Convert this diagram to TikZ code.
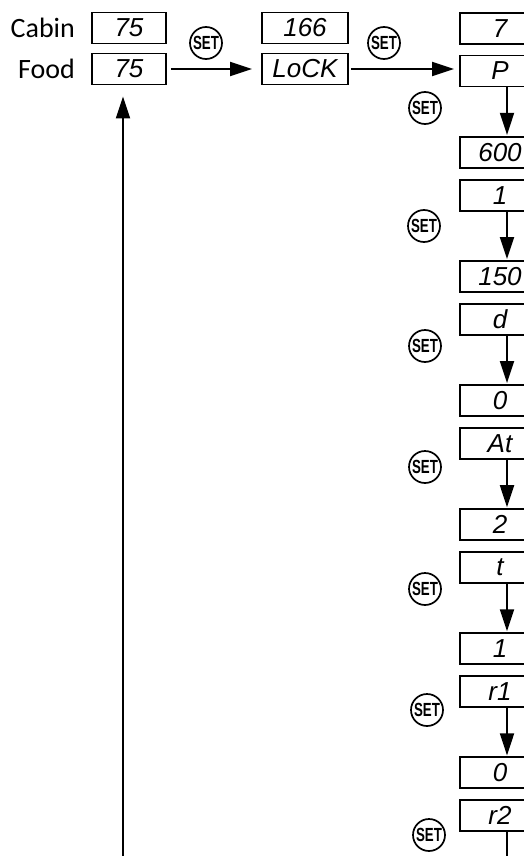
\documentclass[tikz,border=0pt]{standalone}
\usepackage{fontspec}
\setmainfont{Carlito}
\newfontfamily\segfont{Liberation Sans}
\newfontfamily\keyfont{Liberation Sans}[FakeStretch=0.7]
\usetikzlibrary{positioning,arrows.meta}
\tikzset{
  flow/.style={-{Triangle[length=22pt,width=14pt]},line width=1.9pt},
  plainline/.style={line width=1.9pt},
  display/.style={draw,line width=1.8pt,minimum height=31pt,inner sep=0pt,
    font=\segfont\itshape\fontsize{26}{26}\selectfont},
  colbox/.style={display,minimum width=80pt},
  setkey/.style={circle,draw,line width=1.7pt,minimum size=32pt,inner sep=0pt,
    font=\keyfont\bfseries\fontsize{19}{19}\selectfont},
  rowname/.style={inner sep=0pt,font=\fontsize{28}{30}\selectfont}
}
\begin{document}
\begin{tikzpicture}[x=1pt,y=-1pt,node distance=10pt]
  \useasboundingbox (0,0) rectangle (524,856);
  \clip (0,0) rectangle (524,856);
  % set points shown on power up
  \node[display,minimum width=74pt] (cabin) at (129,28) {75};
  \node[display,minimum width=74pt] (food) at (129,69) {75};
  \node[rowname,left=16pt of cabin] (cabinname) {Cabin};
  \node[rowname,left=16pt of food] (foodname) {Food};
  % access code
  \node[display,minimum width=86pt] (code) at (305,28) {166};
  \node[display,minimum width=86pt] (lock) at (305,69) {LoCK};
  \node[setkey] (key0) at (206,43) {SET};
  \node[setkey] (key1) at (384,43) {SET};
  \draw[flow,shorten <=4pt,shorten >=9pt] (food) -- (lock);
  % parameter column
  \node[colbox] (p) at (500,71) {P};
  \node[colbox,above=of p] (ptop) {7};
  \node[colbox,below=48.5pt of p] (pval) {600};
  \node[colbox,below=of pval] (i) {1};
  \node[colbox,below=48.5pt of i] (ival) {150};
  \node[colbox,below=of ival] (d) {d};
  \node[colbox,below=48.5pt of d] (dval) {0};
  \node[colbox,below=of dval] (at) {At};
  \node[colbox,below=48.5pt of at] (atval) {2};
  \node[colbox,below=of atval] (t) {t};
  \node[colbox,below=48.5pt of t] (tval) {1};
  \node[colbox,below=of tval] (rone) {r1};
  \node[colbox,below=48.5pt of rone] (roneval) {0};
  \node[colbox,below=of roneval] (rtwo) {r2};
  \draw[flow,shorten <=2pt,shorten >=5pt] (lock.east) -- (lock.east -| p.west);
  \node[setkey] (key2) at (425,108) {SET};
  \node[setkey] (key3) at (424,226) {SET};
  \node[setkey] (key4) at (425,346) {SET};
  \node[setkey] (key5) at (425,467) {SET};
  \node[setkey] (key6) at (425,589) {SET};
  \node[setkey] (key7) at (427,710) {SET};
  \node[setkey] (key8) at (429,835) {SET};
  \draw[flow,shorten >=1pt] ([xshift=7pt]p.south) -- ([xshift=7pt]pval.north);
  \draw[flow,shorten >=1pt] ([xshift=7pt]i.south) -- ([xshift=7pt]ival.north);
  \draw[flow,shorten >=1pt] ([xshift=7pt]d.south) -- ([xshift=7pt]dval.north);
  \draw[flow,shorten >=1pt] ([xshift=7pt]at.south) -- ([xshift=7pt]atval.north);
  \draw[flow,shorten >=1pt] ([xshift=7pt]t.south) -- ([xshift=7pt]tval.north);
  \draw[flow,shorten >=1pt] ([xshift=7pt]rone.south) -- ([xshift=7pt]roneval.north);
  % r2 runs off the bottom, loop comes back to the food display
  \coordinate (rtwofoot) at (507,870);
  \draw[plainline] ([xshift=7pt]rtwo.south) -- (rtwofoot);
  \coordinate (loopfoot) at (123,870);
  \draw[flow,shorten >=11pt] (loopfoot) -- (loopfoot |- food.south);
\end{tikzpicture}
\end{document}
